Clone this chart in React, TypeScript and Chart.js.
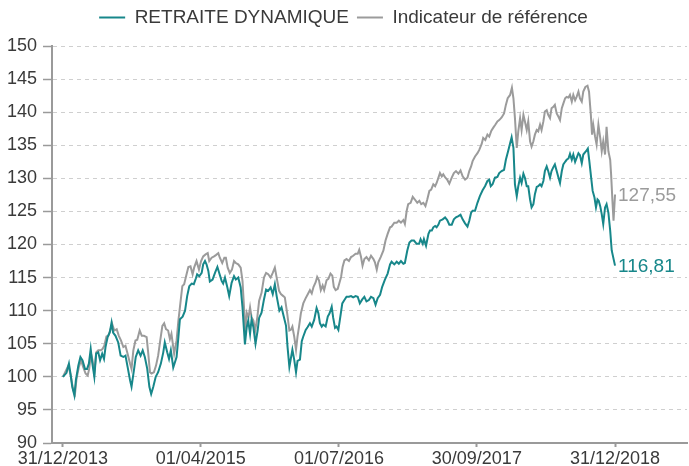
import React, { useEffect, useRef } from 'react';
import { Chart, registerables } from 'chart.js';

Chart.register(...registerables);

// ---------- data ----------
const START_DATE = '2013-12-31';
const seriesNames = ['RETRAITE DYNAMIQUE', 'Indicateur de référence'];
const seriesColors = ['#17878a', '#9b9b9b'];
const tickDates = ['2013-12-31', '2015-04-01', '2016-07-01', '2017-09-30', '2018-12-31'];
const tickLabels = ['31/12/2013', '01/04/2015', '01/07/2016', '30/09/2017', '31/12/2018'];
const yMin = 90;
const yMax = 150;
const yStep = 5;

// days elapsed since START_DATE
const retraiteDays = [
  0, 12, 20, 25, 31, 38, 43, 51, 58, 65, 73, 80, 86, 92, 97, 104, 110, 117, 123, 130, 136, 141, 148, 155, 161, 166,
  174, 183, 191, 200, 207, 214, 222, 227, 235, 241, 249, 257, 264, 271, 279, 286, 292, 299, 307, 315, 324, 332, 337,
  345, 351, 357, 365, 376, 382, 387, 396, 404, 411, 418, 426, 433, 440, 444, 451, 459, 464, 470, 475, 481, 486, 495,
  503, 511, 517, 525, 530, 536, 544, 550, 558, 566, 572, 580, 588, 594, 599, 602, 608, 613, 619, 624, 630, 637, 644,
  649, 657, 665, 672, 679, 687, 694, 701, 707, 716, 723, 731, 738, 743, 749, 759, 765, 771, 776, 784, 790, 795, 803,
  809, 817, 823, 831, 839, 845, 850, 856, 861, 869, 876, 882, 889, 894, 900, 905, 911, 916, 924, 931, 938, 946, 953,
  960, 968, 975, 982, 990, 997, 1004, 1012, 1019, 1027, 1034, 1041, 1049, 1056, 1065, 1074, 1082, 1087, 1096, 1104,
  1111, 1118, 1126, 1131, 1139, 1146, 1153, 1161, 1170, 1178, 1183, 1190, 1194, 1201, 1209, 1214, 1220, 1225, 1231,
  1236, 1242, 1247, 1256, 1264, 1271, 1278, 1286, 1293, 1300, 1308, 1315, 1322, 1330, 1338, 1344, 1350, 1355, 1363,
  1371, 1379, 1388, 1396, 1404, 1410, 1415, 1421, 1429, 1437, 1443, 1451, 1459, 1465, 1473, 1479, 1484, 1490, 1495,
  1501, 1506, 1512, 1517, 1523, 1528, 1534, 1539, 1545, 1550, 1556, 1561, 1567, 1572, 1578, 1583, 1589, 1594, 1600,
  1605, 1611, 1616, 1622, 1627, 1633, 1639, 1644, 1650, 1655, 1661, 1666, 1672, 1677, 1683, 1688, 1694, 1699, 1705,
  1710, 1716, 1721, 1730, 1736, 1741, 1747, 1752, 1758, 1763, 1768, 1772, 1777, 1782, 1787, 1793, 1798, 1804, 1810,
  1815, 1826,
];
const retraiteValues = [
  100.0, 100.6, 102.0, 100.5, 98.5, 97.2, 99.5, 101.7, 103.0, 102.5, 101.2, 101.2, 102.0, 104.2, 102.2, 100.0, 103.5,
  103.7, 102.5, 103.5, 102.7, 104.5, 106.0, 106.7, 108.2, 106.7, 106.2, 105.2, 103.2, 103.0, 103.2, 101.5, 99.5, 98.5,
  101.0, 103.0, 104.0, 103.2, 104.0, 103.0, 101.2, 98.5, 97.4, 98.5, 100.0, 100.7, 102.0, 103.7, 105.2, 103.7, 102.7,
  104.0, 101.4, 103.0, 106.0, 108.7, 109.1, 110.0, 112.2, 113.7, 114.1, 114.0, 114.9, 115.5, 115.2, 115.7, 117.0,
  117.5, 117.0, 116.0, 114.4, 114.7, 115.7, 116.6, 115.7, 114.5, 114.1, 115.0, 113.5, 112.2, 114.2, 115.2, 114.7,
  115.0, 113.5, 110.5, 107.0, 104.9, 107.5, 108.5, 106.5, 108.7, 107.5, 105.0, 107.0, 108.9, 109.7, 111.7, 113.2,
  113.0, 113.5, 112.5, 114.0, 112.2, 110.0, 110.5, 109.0, 107.7, 104.5, 101.5, 104.1, 102.6, 100.7, 102.4, 102.6,
  105.4, 106.1, 107.1, 107.5, 108.1, 107.6, 108.6, 110.4, 109.6, 108.1, 107.6, 107.9, 107.6, 109.1, 109.6, 110.6,
  108.9, 107.4, 107.6, 107.1, 108.6, 111.1, 111.6, 112.1, 112.1, 112.2, 112.0, 112.2, 112.1, 111.1, 111.7, 112.1,
  111.4, 111.6, 112.1, 111.9, 110.9, 111.9, 112.4, 113.6, 114.7, 115.6, 117.0, 117.4, 117.0, 117.4, 117.1, 117.5,
  117.1, 117.2, 119.1, 120.3, 120.6, 120.6, 120.1, 120.1, 120.8, 120.1, 120.8, 119.8, 121.6, 122.1, 122.1, 122.6,
  122.8, 122.6, 123.0, 123.6, 123.8, 124.1, 123.7, 123.0, 123.0, 123.8, 124.1, 124.3, 124.5, 123.8, 123.2, 122.7,
  123.6, 124.8, 125.1, 125.1, 126.3, 127.3, 128.2, 128.8, 129.6, 129.8, 128.8, 129.1, 130.1, 130.2, 130.8, 131.1,
  131.3, 132.8, 134.2, 135.3, 136.2, 134.6, 129.1, 127.3, 128.8, 130.1, 129.3, 130.7, 130.1, 128.8, 128.8, 126.8,
  125.6, 126.1, 127.6, 128.7, 128.8, 129.1, 128.8, 129.6, 131.1, 131.8, 131.1, 130.1, 131.1, 131.7, 132.1, 131.1,
  130.1, 129.3, 131.1, 132.1, 132.5, 132.8, 133.0, 133.7, 132.8, 133.6, 132.5, 133.1, 133.8, 133.5, 132.3, 133.6,
  134.1, 134.5, 132.6, 130.1, 128.1, 127.1, 125.6, 126.8, 126.6, 125.8, 124.6, 123.1, 125.6, 126.1, 124.8, 122.1,
  119.1, 116.81,
];

const indicateurDays = [
  0, 18, 26, 34, 40, 45, 53, 60, 67, 75, 82, 87, 93, 98, 104, 110, 117, 125, 131, 137, 144, 150, 158, 163, 170, 178,
  185, 192, 200, 207, 214, 222, 227, 233, 240, 246, 254, 261, 268, 277, 282, 288, 293, 301, 308, 315, 322, 329, 335,
  341, 348, 354, 359, 368, 376, 382, 387, 395, 401, 409, 415, 422, 429, 434, 442, 450, 457, 464, 472, 479, 484, 492,
  500, 506, 514, 519, 527, 534, 539, 545, 552, 559, 566, 572, 580, 588, 594, 599, 603, 608, 614, 619, 624, 630, 636,
  643, 649, 657, 665, 672, 679, 687, 694, 701, 707, 715, 721, 729, 734, 742, 749, 754, 759, 765, 771, 776, 781, 787,
  795, 803, 809, 817, 823, 829, 836, 841, 847, 853, 859, 864, 872, 878, 885, 891, 896, 902, 909, 914, 920, 925, 931,
  938, 946, 953, 960, 968, 975, 980, 986, 991, 997, 1004, 1012, 1019, 1027, 1032, 1038, 1043, 1051, 1060, 1067, 1074,
  1082, 1087, 1096, 1104, 1111, 1118, 1126, 1131, 1137, 1142, 1150, 1157, 1164, 1172, 1179, 1185, 1192, 1199, 1205,
  1212, 1218, 1225, 1231, 1236, 1242, 1247, 1253, 1258, 1265, 1271, 1278, 1286, 1293, 1300, 1308, 1315, 1322, 1330,
  1338, 1344, 1350, 1355, 1363, 1371, 1377, 1385, 1390, 1397, 1404, 1410, 1417, 1424, 1430, 1437, 1443, 1451, 1459,
  1465, 1471, 1479, 1485, 1490, 1495, 1501, 1506, 1512, 1517, 1523, 1528, 1534, 1539, 1545, 1550, 1556, 1561, 1567,
  1572, 1578, 1583, 1589, 1594, 1600, 1605, 1611, 1616, 1622, 1627, 1633, 1639, 1644, 1650, 1655, 1661, 1666, 1672,
  1677, 1683, 1688, 1694, 1699, 1705, 1710, 1716, 1721, 1728, 1735, 1740, 1746, 1750, 1754, 1760, 1765, 1771, 1777,
  1782, 1787, 1793, 1798, 1804, 1810, 1813, 1818, 1821, 1826,
];
const indicateurValues = [
  100.0, 101.7, 100.2, 98.0, 97.4, 99.7, 101.5, 102.5, 101.5, 100.5, 100.2, 101.2, 103.5, 102.5, 100.5, 103.7, 104.0,
  104.0, 104.2, 104.7, 106.1, 106.2, 107.2, 108.0, 107.0, 107.2, 106.2, 105.5, 104.5, 104.7, 103.5, 102.0, 101.2,
  104.0, 105.5, 105.6, 107.0, 106.2, 106.2, 106.0, 103.7, 100.7, 100.5, 100.7, 101.7, 103.2, 105.5, 107.7, 108.1,
  107.2, 107.0, 105.7, 106.5, 103.5, 105.5, 108.5, 110.5, 113.7, 114.0, 115.5, 116.6, 116.7, 115.5, 116.5, 117.5,
  116.2, 117.5, 118.2, 118.5, 118.7, 117.5, 118.0, 118.2, 118.4, 118.7, 118.0, 117.2, 118.0, 118.0, 116.5, 115.7,
  116.2, 117.5, 117.2, 117.0, 116.5, 114.5, 110.5, 106.5, 109.7, 109.0, 110.5, 109.0, 108.5, 107.0, 109.0, 111.5,
  112.7, 115.0, 115.7, 115.5, 115.0, 115.7, 116.5, 115.0, 113.0, 112.5, 112.2, 112.0, 109.5, 107.0, 107.1, 107.6,
  106.1, 104.1, 106.1, 107.6, 109.6, 111.1, 111.9, 112.4, 113.1, 112.6, 113.6, 114.3, 115.1, 114.6, 113.1, 113.8,
  113.1, 114.6, 114.8, 115.6, 115.3, 113.6, 113.1, 113.3, 114.1, 115.1, 116.6, 117.6, 117.8, 117.5, 118.1, 118.3,
  118.6, 118.6, 119.2, 118.1, 116.8, 117.8, 118.1, 117.6, 118.3, 117.8, 117.3, 116.2, 117.3, 118.1, 119.1, 120.6,
  121.6, 122.6, 122.7, 123.3, 123.3, 123.6, 123.3, 123.7, 123.1, 125.1, 126.1, 126.3, 127.2, 126.8, 126.3, 126.6,
  126.1, 126.3, 125.8, 126.8, 128.1, 128.3, 129.1, 128.8, 129.3, 130.1, 130.8, 130.3, 130.6, 130.1, 129.8, 129.2,
  130.1, 130.8, 131.1, 130.7, 131.2, 130.3, 129.8, 130.1, 131.1, 131.8, 132.6, 133.3, 133.8, 134.3, 135.2, 136.1,
  135.8, 136.6, 136.3, 137.2, 137.7, 138.1, 138.6, 138.8, 139.2, 139.8, 141.1, 142.1, 142.6, 143.7, 142.1, 139.1,
  134.6, 137.1, 139.1, 137.3, 139.6, 138.6, 137.3, 138.6, 135.6, 134.8, 135.6, 136.6, 137.3, 137.1, 138.1, 137.3,
  138.6, 140.1, 140.3, 139.6, 139.1, 140.6, 140.8, 141.1, 139.8, 139.3, 138.8, 140.6, 141.3, 142.1, 142.3, 142.2,
  142.6, 141.6, 142.6, 141.8, 142.3, 143.1, 142.1, 141.6, 143.1, 143.8, 144.0, 143.1, 139.6, 136.6, 138.1, 136.3,
  135.1, 138.1, 136.1, 134.1, 135.6, 133.6, 137.8, 134.1, 132.8, 130.6, 126.1, 123.6, 127.55,
];

// ---------- helpers ----------
function dayOffset(iso: string): number {
  const [y, m, d] = iso.split('-').map(Number);
  const [sy, sm, sd] = START_DATE.split('-').map(Number);
  return Math.round((Date.UTC(y, m - 1, d) - Date.UTC(sy, sm - 1, sd)) / 86400000);
}
function toPoints(days: number[], values: number[]) {
  return days.map((d, i) => ({ x: d, y: values[i] }));
}

const FONT = '"Liberation Sans", Arial, Helvetica, sans-serif';
const TEXT = '#3a3a3a';

// adds a gap below the legend so the plot area starts lower
const legendGap = {
  id: 'legendGap',
  afterInit(chart: any) {
    const legend = chart.legend;
    if (legend && !legend.__gapPatched) {
      const origFit = legend.fit;
      legend.fit = function () {
        origFit.call(this);
        this.height += 9;
      };
      legend.__gapPatched = true;
    }
  },
};

const endLabels = {
  id: 'endLabels',
  afterDatasetsDraw(chart: any) {
    const ctx = chart.ctx;
    chart.data.datasets.forEach((ds: any, i: number) => {
      const meta = chart.getDatasetMeta(i);
      const last = meta.data[meta.data.length - 1];
      const val = ds.data[ds.data.length - 1].y as number;
      ctx.save();
      ctx.font = `19px ${FONT}`;
      ctx.fillStyle = ds.borderColor;
      ctx.textAlign = 'left';
      ctx.textBaseline = 'middle';
      ctx.fillText(val.toFixed(2).replace('.', ','), last.x + 3, last.y + 1);
      ctx.restore();
    });
  },
};

export default function App() {
  const canvasRef = useRef<HTMLCanvasElement | null>(null);

  useEffect(() => {
    if (!canvasRef.current) return;
    const tickValues = tickDates.map(dayOffset);
    const chart = new Chart(canvasRef.current, {
      type: 'line',
      data: {
        datasets: [
          {
            label: seriesNames[0],
            data: toPoints(retraiteDays, retraiteValues),
            borderColor: seriesColors[0],
            backgroundColor: seriesColors[0],
            borderWidth: 2,
            pointRadius: 0,
            tension: 0,
          },
          {
            label: seriesNames[1],
            data: toPoints(indicateurDays, indicateurValues),
            borderColor: seriesColors[1],
            backgroundColor: seriesColors[1],
            borderWidth: 2,
            pointRadius: 0,
            tension: 0,
          },
        ],
      },
      options: {
        responsive: false,
        animation: false,
        layout: { padding: { top: 0, right: 2, left: 0, bottom: 0 } },
        plugins: {
          legend: {
            display: true,
            position: 'top',
            labels: {
              usePointStyle: true,
              pointStyle: 'line',
              pointStyleWidth: 26,
              color: TEXT,
              font: { family: FONT, size: 19 },
              padding: 8,
            },
          },
          tooltip: { enabled: false },
        },
        scales: {
          x: {
            type: 'linear',
            min: -36,
            max: 2064,
            afterBuildTicks: (scale: any) => {
              scale.ticks = tickValues.map((v) => ({ value: v }));
            },
            afterFit: (scale: any) => {
              scale.height = 23;
            },
            ticks: {
              autoSkip: false,
              maxRotation: 0,
              padding: 1,
              color: TEXT,
              font: { family: FONT, size: 18 },
              callback: (_v: any, i: number) => tickLabels[i],
            },
            grid: {
              drawOnChartArea: false,
              drawTicks: true,
              tickLength: 4,
              tickColor: '#9a9a9a',
              tickWidth: 2,
            },
            border: { display: true, color: '#9a9a9a', width: 2 },
          },
          y: {
            min: yMin,
            max: yMax,
            afterFit: (scale: any) => {
              scale.width = 52;
            },
            ticks: {
              stepSize: yStep,
              padding: 6,
              color: TEXT,
              font: { family: FONT, size: 18 },
            },
            grid: {
              color: '#cfcfcf',
              lineWidth: 1,
              drawTicks: true,
              tickLength: 9,
              tickColor: '#9a9a9a',
              tickWidth: 1.5,
              tickBorderDash: [],
            },
            border: { display: true, color: '#9a9a9a', width: 2, dash: [4, 4] },
          },
        },
      },
      plugins: [legendGap, endLabels],
    });
    return () => chart.destroy();
  }, []);

  return (
    <div style={{ position: 'absolute', left: 0, top: 0, width: 689, height: 466, background: '#fff' }}>
      <canvas ref={canvasRef} width={689} height={466} style={{ display: 'block' }} />
    </div>
  );
}
